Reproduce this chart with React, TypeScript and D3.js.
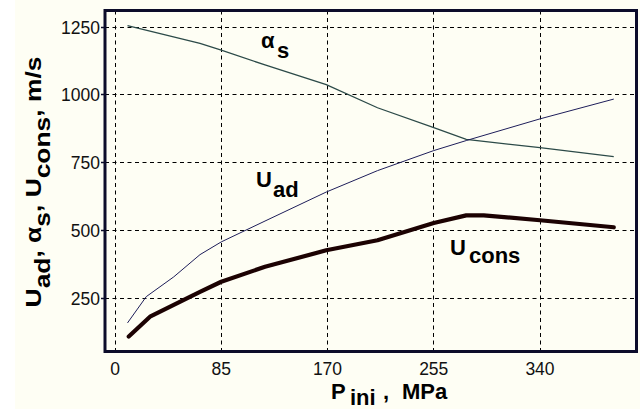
import React from "react";
import * as d3 from "d3";

// Initial pressure, MPa
const alphaP = [10, 68, 85, 120, 169, 210, 255, 281, 340, 399];
const alphaS = [1255, 1190, 1165, 1110, 1037, 952, 879, 835, 805, 772];

const adP = [10, 25, 47, 68, 85, 120, 169, 210, 255, 281, 340, 399];
const uAd = [158, 255, 328, 410, 457, 534, 641, 720, 794, 831, 911, 984];

const consP = [11, 28, 68, 85, 120, 169, 210, 255, 281, 295, 340, 399];
const uCons = [108, 181, 273, 310, 365, 426, 463, 527, 555, 555, 537, 511];

const xTicks = [0, 85, 170, 255, 340];
const yTicks = [250, 500, 750, 1000, 1250];

const W = 640;
const H = 412;
const frame = { left: 105, top: 10.5, right: 636.5, bottom: 351.5 };

const FONT = "'Liberation Sans', Arial, sans-serif";
const BG = "#fefef4";

// snap a coordinate to a pixel centre so 1px lines stay crisp
const crisp = (v: number) => Math.round(v - 0.5) + 0.5;

export default function App() {
  const x = d3.scaleLinear().domain([0, 340]).range([115, 540]);
  const y = d3.scaleLinear().domain([250, 1250]).range([298, 27]);

  const mk = (xs: number[], ys: number[]) =>
    d3
      .line<number>()
      .x((_, i) => x(xs[i]))
      .y((d) => y(d))(ys) as string;

  const dash = "4 3.5";

  return (
    <svg
      width={W}
      height={H}
      style={{ position: "absolute", left: 0, top: 0, display: "block" }}
      fontFamily={FONT}
    >
      <rect x={0} y={0} width={W} height={H} fill="#ffffff" />
      <rect x={15} y={0} width={W - 15} height={409} fill={BG} />

      {/* grid */}
      {xTicks.map((t) => (
        <line
          key={"gx" + t}
          x1={crisp(x(t))}
          x2={crisp(x(t))}
          y1={frame.top}
          y2={frame.bottom}
          stroke="#000"
          strokeWidth={1}
          strokeDasharray={dash}
        />
      ))}
      {yTicks.map((t) => (
        <line
          key={"gy" + t}
          x1={frame.left}
          x2={frame.right}
          y1={crisp(y(t))}
          y2={crisp(y(t))}
          stroke="#000"
          strokeWidth={1}
          strokeDasharray={dash}
        />
      ))}

      {/* series */}
      <path d={mk(alphaP, alphaS)} fill="none" stroke="#2c4a48" strokeWidth={1.3} />
      <path d={mk(adP, uAd)} fill="none" stroke="#1e1e5a" strokeWidth={1} />
      <path
        d={mk(consP, uCons)}
        fill="none"
        stroke="#1c0202"
        strokeWidth={4.2}
        strokeLinejoin="round"
        strokeLinecap="round"
      />

      {/* frame */}
      <rect
        x={frame.left}
        y={frame.top}
        width={frame.right - frame.left}
        height={frame.bottom - frame.top}
        fill="none"
        stroke="#0c0c2a"
        strokeWidth={3}
      />

      {/* y ticks & labels */}
      {yTicks.map((t) => (
        <g key={"yt" + t}>
          <line
            x1={101}
            x2={105}
            y1={crisp(y(t))}
            y2={crisp(y(t))}
            stroke="#0c0c2a"
            strokeWidth={1.5}
          />
          <text x={100} y={y(t) + 6.5} textAnchor="end" fontSize={17.5} fill="#111">
            {t}
          </text>
        </g>
      ))}

      {/* x labels */}
      {xTicks.map((t) => (
        <text
          key={"xt" + t}
          x={x(t)}
          y={374.5}
          textAnchor="middle"
          fontSize={17.5}
          fill="#111"
        >
          {t}
        </text>
      ))}

      {/* curve labels */}
      <g fontWeight="bold" fontSize={22} fill="#000">
        <text x={261} y={48}>
          α
          <tspan x={277} dy={10}>s</tspan>
        </text>
        <text x={256} y={187}>
          U
          <tspan x={273} dy={10}>ad</tspan>
        </text>
        <text x={450} y={255}>
          U
          <tspan x={469} dy={8}>cons</tspan>
        </text>
      </g>

      {/* axis titles */}
      <text fontWeight="bold" fontSize={22} fill="#000" y={399}>
        <tspan x={331}>P</tspan>
        <tspan x={350} dy={6}>ini</tspan>
        <tspan x={383} dy={-6}>,</tspan>
        <tspan x={402}>MPa</tspan>
      </text>

      <text
        fontWeight="bold"
        fontSize={22}
        fill="#000"
        textAnchor="middle"
        transform="translate(41,182) rotate(-90) scale(1.2,1)"
      >
        U<tspan dy={9}>ad</tspan>
        <tspan dy={-9}>, α</tspan>
        <tspan dy={9}>s</tspan>
        <tspan dy={-9}>, U</tspan>
        <tspan dy={9}>cons</tspan>
        <tspan dy={-9}>, m/s</tspan>
      </text>
    </svg>
  );
}
